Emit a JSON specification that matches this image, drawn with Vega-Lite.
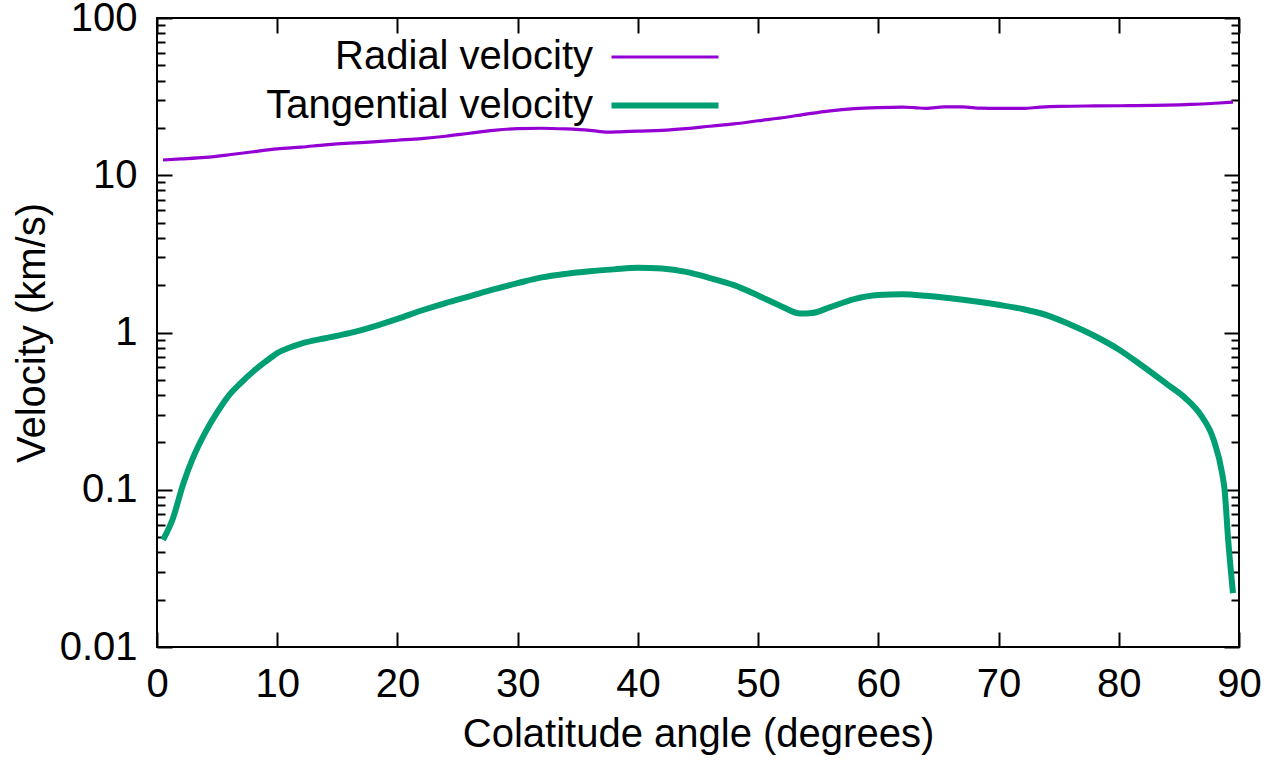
{
  "$schema": "https://vega.github.io/schema/vega-lite/v6.json",
  "width": 1082,
  "height": 629,
  "autosize": {"type": "none"},
  "padding": {"left": 157, "top": 18, "right": 45, "bottom": 113},
  "background": "white",
  "data": {
    "values": [
      {"angle": 0.5, "v": 12.5, "series": "Radial velocity"},
      {"angle": 2, "v": 12.7, "series": "Radial velocity"},
      {"angle": 4, "v": 13.0, "series": "Radial velocity"},
      {"angle": 6, "v": 13.5, "series": "Radial velocity"},
      {"angle": 8, "v": 14.1, "series": "Radial velocity"},
      {"angle": 10, "v": 14.7, "series": "Radial velocity"},
      {"angle": 12, "v": 15.1, "series": "Radial velocity"},
      {"angle": 14, "v": 15.6, "series": "Radial velocity"},
      {"angle": 16, "v": 16.0, "series": "Radial velocity"},
      {"angle": 18, "v": 16.3, "series": "Radial velocity"},
      {"angle": 20, "v": 16.7, "series": "Radial velocity"},
      {"angle": 22, "v": 17.1, "series": "Radial velocity"},
      {"angle": 24, "v": 17.7, "series": "Radial velocity"},
      {"angle": 26, "v": 18.5, "series": "Radial velocity"},
      {"angle": 28, "v": 19.3, "series": "Radial velocity"},
      {"angle": 30, "v": 19.8, "series": "Radial velocity"},
      {"angle": 32, "v": 19.9, "series": "Radial velocity"},
      {"angle": 34, "v": 19.7, "series": "Radial velocity"},
      {"angle": 36, "v": 19.3, "series": "Radial velocity"},
      {"angle": 37.5, "v": 18.8, "series": "Radial velocity"},
      {"angle": 38.5, "v": 18.9, "series": "Radial velocity"},
      {"angle": 40, "v": 19.1, "series": "Radial velocity"},
      {"angle": 42, "v": 19.3, "series": "Radial velocity"},
      {"angle": 44, "v": 19.8, "series": "Radial velocity"},
      {"angle": 46, "v": 20.5, "series": "Radial velocity"},
      {"angle": 48, "v": 21.2, "series": "Radial velocity"},
      {"angle": 50, "v": 22.2, "series": "Radial velocity"},
      {"angle": 52, "v": 23.2, "series": "Radial velocity"},
      {"angle": 54, "v": 24.5, "series": "Radial velocity"},
      {"angle": 56, "v": 25.7, "series": "Radial velocity"},
      {"angle": 58, "v": 26.5, "series": "Radial velocity"},
      {"angle": 60, "v": 26.9, "series": "Radial velocity"},
      {"angle": 62, "v": 27.1, "series": "Radial velocity"},
      {"angle": 63, "v": 26.9, "series": "Radial velocity"},
      {"angle": 64, "v": 26.6, "series": "Radial velocity"},
      {"angle": 65.5, "v": 27.2, "series": "Radial velocity"},
      {"angle": 67, "v": 27.2, "series": "Radial velocity"},
      {"angle": 68.5, "v": 26.7, "series": "Radial velocity"},
      {"angle": 70, "v": 26.6, "series": "Radial velocity"},
      {"angle": 72, "v": 26.6, "series": "Radial velocity"},
      {"angle": 73.5, "v": 27.1, "series": "Radial velocity"},
      {"angle": 75, "v": 27.4, "series": "Radial velocity"},
      {"angle": 78, "v": 27.6, "series": "Radial velocity"},
      {"angle": 81, "v": 27.7, "series": "Radial velocity"},
      {"angle": 84, "v": 27.9, "series": "Radial velocity"},
      {"angle": 86, "v": 28.2, "series": "Radial velocity"},
      {"angle": 88, "v": 28.7, "series": "Radial velocity"},
      {"angle": 89.5, "v": 29.2, "series": "Radial velocity"},
      {"angle": 0.5, "v": 0.048, "series": "Tangential velocity"},
      {"angle": 1.3, "v": 0.065, "series": "Tangential velocity"},
      {"angle": 2.2, "v": 0.11, "series": "Tangential velocity"},
      {"angle": 3, "v": 0.16, "series": "Tangential velocity"},
      {"angle": 4, "v": 0.23, "series": "Tangential velocity"},
      {"angle": 5, "v": 0.31, "series": "Tangential velocity"},
      {"angle": 6, "v": 0.40, "series": "Tangential velocity"},
      {"angle": 7, "v": 0.48, "series": "Tangential velocity"},
      {"angle": 8, "v": 0.565, "series": "Tangential velocity"},
      {"angle": 9, "v": 0.65, "series": "Tangential velocity"},
      {"angle": 10, "v": 0.74, "series": "Tangential velocity"},
      {"angle": 11, "v": 0.80, "series": "Tangential velocity"},
      {"angle": 12, "v": 0.85, "series": "Tangential velocity"},
      {"angle": 14, "v": 0.92, "series": "Tangential velocity"},
      {"angle": 16, "v": 0.99, "series": "Tangential velocity"},
      {"angle": 18, "v": 1.09, "series": "Tangential velocity"},
      {"angle": 20, "v": 1.22, "series": "Tangential velocity"},
      {"angle": 22, "v": 1.38, "series": "Tangential velocity"},
      {"angle": 24, "v": 1.54, "series": "Tangential velocity"},
      {"angle": 26, "v": 1.70, "series": "Tangential velocity"},
      {"angle": 28, "v": 1.88, "series": "Tangential velocity"},
      {"angle": 30, "v": 2.06, "series": "Tangential velocity"},
      {"angle": 32, "v": 2.24, "series": "Tangential velocity"},
      {"angle": 34, "v": 2.36, "series": "Tangential velocity"},
      {"angle": 36, "v": 2.45, "series": "Tangential velocity"},
      {"angle": 38, "v": 2.52, "series": "Tangential velocity"},
      {"angle": 40, "v": 2.58, "series": "Tangential velocity"},
      {"angle": 42, "v": 2.55, "series": "Tangential velocity"},
      {"angle": 44, "v": 2.43, "series": "Tangential velocity"},
      {"angle": 46, "v": 2.22, "series": "Tangential velocity"},
      {"angle": 48, "v": 2.0, "series": "Tangential velocity"},
      {"angle": 50, "v": 1.72, "series": "Tangential velocity"},
      {"angle": 52, "v": 1.46, "series": "Tangential velocity"},
      {"angle": 53.5, "v": 1.32, "series": "Tangential velocity"},
      {"angle": 54.5, "v": 1.33, "series": "Tangential velocity"},
      {"angle": 56, "v": 1.45, "series": "Tangential velocity"},
      {"angle": 58, "v": 1.63, "series": "Tangential velocity"},
      {"angle": 60, "v": 1.73, "series": "Tangential velocity"},
      {"angle": 62, "v": 1.75, "series": "Tangential velocity"},
      {"angle": 64, "v": 1.71, "series": "Tangential velocity"},
      {"angle": 66, "v": 1.65, "series": "Tangential velocity"},
      {"angle": 68, "v": 1.58, "series": "Tangential velocity"},
      {"angle": 70, "v": 1.50, "series": "Tangential velocity"},
      {"angle": 72, "v": 1.41, "series": "Tangential velocity"},
      {"angle": 74, "v": 1.29, "series": "Tangential velocity"},
      {"angle": 76, "v": 1.12, "series": "Tangential velocity"},
      {"angle": 78, "v": 0.95, "series": "Tangential velocity"},
      {"angle": 80, "v": 0.78, "series": "Tangential velocity"},
      {"angle": 82, "v": 0.61, "series": "Tangential velocity"},
      {"angle": 84, "v": 0.47, "series": "Tangential velocity"},
      {"angle": 85.5, "v": 0.385, "series": "Tangential velocity"},
      {"angle": 86.8, "v": 0.30, "series": "Tangential velocity"},
      {"angle": 87.9, "v": 0.207, "series": "Tangential velocity"},
      {"angle": 88.6, "v": 0.127, "series": "Tangential velocity"},
      {"angle": 88.8, "v": 0.1, "series": "Tangential velocity"},
      {"angle": 89.1, "v": 0.048, "series": "Tangential velocity"},
      {"angle": 89.5, "v": 0.022, "series": "Tangential velocity"}
    ]
  },
  "layer": [
    {
      "mark": {"type": "line", "interpolate": "monotone", "clip": true},
      "encoding": {
        "x": {"field": "angle", "type": "quantitative",
              "scale": {"domain": [0, 90], "nice": false, "zero": false},
              "axis": {"orient": "bottom", "values": [0,10,20,30,40,50,60,70,80,90], "tickSize": -15, "labelPadding": 32, "labelFlush": false, "title": "Colatitude angle (degrees)", "titlePadding": 10}},
        "y": {"field": "v", "type": "quantitative",
              "scale": {"type": "log", "domain": [0.01, 100], "nice": false},
              "axis": {"orient": "left", "values": [0.01, 0.1, 1, 10, 100], "format": "~g", "tickSize": -15, "labelPadding": 35, "title": "Velocity (km/s)", "titlePadding": 7}},
        "color": {"field": "series", "type": "nominal",
                  "scale": {"domain": ["Radial velocity", "Tangential velocity"], "range": ["#9400D3", "#009E73"]},
                  "legend": {"orient": "none", "legendX": 488, "legendY": 19, "title": null, "symbolType": "M-10,0H10", "symbolSize": 114.5, "symbolStrokeWidth": 3, "symbolFillColor": "transparent", "labelAlign": "right", "labelOffset": -92, "labelFontSize": 40, "labelFont": "Liberation Sans", "labelColor": "black", "rowPadding": 8.5, "padding": 0, "labelLimit": 600,
                             "encode": {"symbols": {"update": {"strokeWidth": {"signal": "datum.value === 'Tangential velocity' ? 6 : 3.5"}}}}}},
        "strokeWidth": {"field": "series", "type": "nominal", "scale": {"domain": ["Radial velocity", "Tangential velocity"], "range": [3.2, 6]}, "legend": null}
      }
    },
    {
      "mark": {"type": "point", "opacity": 0},
      "encoding": {
        "x": {"field": "angle", "type": "quantitative", "axis": {"orient": "top", "values": [0,10,20,30,40,50,60,70,80,90], "tickSize": -15, "labels": false, "title": null}},
        "y": {"field": "v", "type": "quantitative", "axis": {"orient": "right", "values": [0.01, 0.1, 1, 10, 100], "tickSize": -15, "labels": false, "title": null}}
      }
    },
    {
      "mark": {"type": "point", "opacity": 0},
      "encoding": {
        "x": {"field": "angle", "type": "quantitative", "axis": null},
        "y": {"field": "v", "type": "quantitative", "axis": {"orient": "left", "values": [0.02,0.03,0.04,0.05,0.06,0.07,0.08,0.09,0.2,0.3,0.4,0.5,0.6,0.7,0.8,0.9,2,3,4,5,6,7,8,9,20,30,40,50,60,70,80,90], "tickSize": -8, "labels": false, "title": null}}
      }
    },
    {
      "mark": {"type": "point", "opacity": 0},
      "encoding": {
        "x": {"field": "angle", "type": "quantitative", "axis": null},
        "y": {"field": "v", "type": "quantitative", "axis": {"orient": "right", "values": [0.02,0.03,0.04,0.05,0.06,0.07,0.08,0.09,0.2,0.3,0.4,0.5,0.6,0.7,0.8,0.9,2,3,4,5,6,7,8,9,20,30,40,50,60,70,80,90], "tickSize": -8, "labels": false, "title": null}}
      }
    }
  ],
  "resolve": {"axis": {"x": "independent", "y": "independent"}},
  "config": {
    "view": {"stroke": "black", "strokeWidth": 2},
    "axis": {"grid": false, "domain": false, "labelFont": "Liberation Sans", "labelFontSize": 40, "labelColor": "black", "titleFont": "Liberation Sans", "titleFontSize": 40, "titleFontWeight": "normal", "titleColor": "black", "tickColor": "black", "tickWidth": 2}
  }
}
